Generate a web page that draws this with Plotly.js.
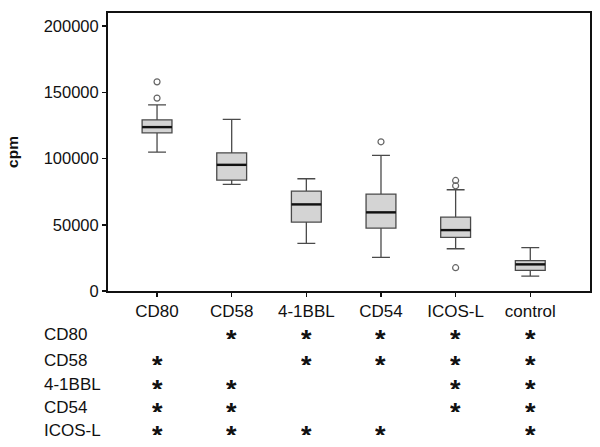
<!DOCTYPE html>
<html>
<head>
<meta charset="utf-8">
<script src="https://cdn.plot.ly/plotly-3.0.1.min.js"></script>
<style>html,body{margin:0;padding:0;background:#fff;}#chart{width:600px;height:447px;}</style>
</head>
<body>
<div id="chart"></div>
<script>
// ---- data ----
const categories = ['CD80', 'CD58', '4-1BBL', 'CD54', 'ICOS-L', 'control'];
const lowerWhisker = [104900, 80500, 36000, 25400, 31900, 11300];
const q1Values = [119500, 83800, 52100, 47500, 40500, 15600];
const medianValues = [123800, 95300, 65400, 59400, 46000, 20100];
const q3Values = [129300, 104400, 75500, 73200, 55800, 22900];
const upperWhisker = [140600, 129600, 84800, 102400, 76500, 32700];
const outlierGroup = ['CD80', 'CD80', 'CD54', 'ICOS-L', 'ICOS-L', 'ICOS-L'];
const outlierValues = [158000, 145700, 112700, 83500, 79500, 17600];
const rowLabels = ['CD80', 'CD58', '4-1BBL', 'CD54', 'ICOS-L'];
const significance = [
  [0, 1, 1, 1, 1, 1],
  [1, 0, 1, 1, 1, 1],
  [1, 1, 0, 0, 1, 1],
  [1, 1, 0, 0, 1, 1],
  [1, 1, 1, 1, 0, 1]
];
const yTickValues = [0, 50000, 100000, 150000, 200000];

// ---- chart ----
const pos = categories.map((c, i) => i);
const boxWidth = 0.4;
const font = 'Liberation Sans, Arial, sans-serif';

const boxTrace = {
  type: 'box',
  x: pos,
  q1: q1Values,
  median: medianValues,
  q3: q3Values,
  lowerfence: lowerWhisker,
  upperfence: upperWhisker,
  width: boxWidth,
  whiskerwidth: 0.6,
  fillcolor: '#d4d4d4',
  line: { color: '#4a4a4a', width: 1.3 },
  boxpoints: false,
  hoverinfo: 'skip',
  showlegend: false
};

const medX = [], medY = [];
medianValues.forEach((m, i) => {
  medX.push(i - boxWidth / 2, i + boxWidth / 2, null);
  medY.push(m, m, null);
});
const medianTrace = {
  type: 'scatter', mode: 'lines', x: medX, y: medY,
  line: { color: '#111', width: 2.4 }, hoverinfo: 'skip', showlegend: false
};

const outlierTrace = {
  type: 'scatter', mode: 'markers',
  x: outlierGroup.map(g => categories.indexOf(g)),
  y: outlierValues,
  marker: { symbol: 'circle-open', size: 6, color: '#666', line: { width: 1.2 } },
  hoverinfo: 'skip', showlegend: false
};

// table annotations below the plot
const plotLeftPx = 108, plotRightPx = 590;
const plotTopPx = 13, plotBottomPx = 291;
const plotH = plotBottomPx - plotTopPx;
const plotW = plotRightPx - plotLeftPx;
const rowPx = [334, 360, 384, 407, 430];
const labelLeftPx = 42;
const annotations = [];
rowLabels.forEach((lab, r) => {
  const yPaper = (plotBottomPx - rowPx[r]) / plotH;
  annotations.push({
    xref: 'paper', yref: 'paper', x: (labelLeftPx - plotLeftPx) / plotW, y: yPaper,
    xanchor: 'left', yanchor: 'middle', showarrow: false,
    text: lab, font: { family: font, size: 17, color: '#111' }
  });
  significance[r].forEach((s, c) => {
    if (s) {
      annotations.push({
        xref: 'x', yref: 'paper', x: c, y: yPaper, yshift: 2,
        xanchor: 'center', yanchor: 'middle', showarrow: false,
        height: 14, valign: 'top',
        text: '<b>*</b>', font: { family: font, size: 27, color: '#111' }
      });
    }
  });
});

const layout = {
  width: 600, height: 447,
  margin: { l: plotLeftPx, r: 600 - plotRightPx, t: plotTopPx, b: 447 - plotBottomPx },
  paper_bgcolor: '#fff', plot_bgcolor: '#fff',
  font: { family: font, color: '#111' },
  xaxis: {
    range: [-0.657, 5.8],
    tickmode: 'array', tickvals: pos, ticktext: categories,
    ticks: 'outside', ticklen: 4, tickwidth: 1.5, tickcolor: '#111',
    tickfont: { family: font, size: 17, color: '#111' },
    showline: true, linecolor: '#111', linewidth: 2, mirror: true,
    showgrid: false, zeroline: false, fixedrange: true
  },
  yaxis: {
    range: [0, 210000],
    tickmode: 'array', tickvals: yTickValues, ticktext: yTickValues.map(String),
    ticks: 'outside', ticklen: 4, tickwidth: 1.5, tickcolor: '#111',
    tickfont: { family: font, size: 16.5, color: '#111' },
    showline: true, linecolor: '#111', linewidth: 2, mirror: true,
    showgrid: false, zeroline: false, fixedrange: true,
    title: { text: '<b>cpm</b>', font: { family: font, size: 15.5, color: '#111' }, standoff: 21 }
  },
  annotations: annotations
};

Plotly.newPlot('chart', [boxTrace, medianTrace, outlierTrace], layout, { staticPlot: true, displayModeBar: false });
</script>
</body>
</html>
